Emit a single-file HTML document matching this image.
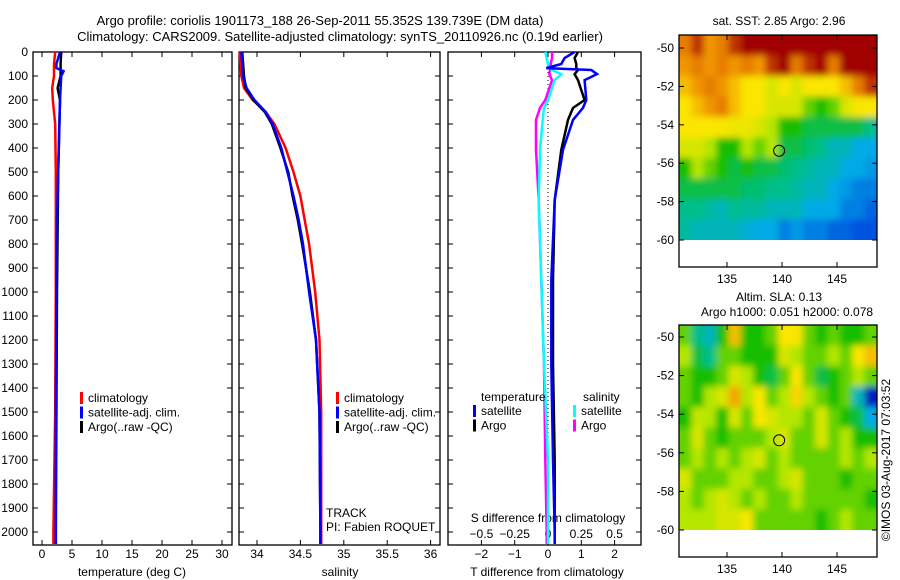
<!DOCTYPE html>
<html><head><meta charset="utf-8"><style>
body{margin:0;background:#fff;}
svg{display:block;font-family:"Liberation Sans",sans-serif;}
</style></head><body>
<svg id="c" width="900" height="580" viewBox="0 0 900 580">
<defs>
<filter id="blur" x="-5%" y="-5%" width="110%" height="110%"><feGaussianBlur stdDeviation="3.5"/></filter>
<clipPath id="clip1"><rect x="679" y="35" width="198" height="205"/></clipPath>
<clipPath id="clip2"><rect x="679" y="325" width="198" height="205"/></clipPath>
</defs>
<text x="320" y="25" font-size="13" text-anchor="middle">Argo profile: coriolis 1901173_188 26-Sep-2011 55.352S 139.739E (DM data)</text>
<text x="340" y="41" font-size="13" text-anchor="middle">Climatology: CARS2009. Satellite-adjusted climatology: synTS_20110926.nc (0.19d earlier)</text>
<g id="g"></g>
</svg>
<script>
// ---- data ----
const depthTicks=[0,100,200,300,400,500,600,700,800,900,1000,1100,1200,1300,1400,1500,1600,1700,1800,1900,2000];
const tempTicks=[0,5,10,15,20,25,30];
const salTicks=[34,34.5,35,35.5,36];
const tdiffTicks=[-2,-1,0,1,2];
const sdiffTicks=[-0.5,-0.25,0,0.25,0.5];
const lonTicks=[135,140,145];
const latTicks=[-50,-52,-54,-56,-58,-60];

const climDepth=[0,50,100,150,200,300,500,1000,1500,2000,2050];
const climTemp=[2.2,2.0,2.0,1.7,1.8,2.2,2.3,2.3,2.2,1.9,1.9];
const satDepth=[0,50,67,80,100,200,400,700,1000,1500,2000,2050];
const satTemp=[3.0,2.4,2.4,3.6,3.2,3.0,2.8,2.5,2.4,2.3,2.3,2.3];
const argoDepth=[0,50,100,150,200,500,1000,1500,2000,2050];
const argoTemp=[3.2,3.1,3.1,2.6,3.0,2.7,2.5,2.4,2.3,2.3];

const salDepth=[0,100,150,200,250,300,400,500,600,700,800,1000,1200,1500,2000,2050];
const climSal=[33.8,33.82,33.85,33.95,34.1,34.2,34.33,34.42,34.5,34.55,34.6,34.67,34.72,34.74,34.74,34.74];
const satSal=[33.82,33.84,33.88,33.97,34.1,34.18,34.28,34.35,34.42,34.48,34.53,34.6,34.68,34.72,34.73,34.73];
const argoSal=[33.83,33.85,33.87,33.96,34.09,34.17,34.27,34.36,34.41,34.47,34.52,34.61,34.68,34.72,34.73,34.73];

const dDepth=[0,25,50,67,75,92,117,200,233,283,408,617,950,1300,1700,2000,2050];
const satTdiff=[0.8,0.5,0.4,-0.05,1.3,1.47,1.1,1.15,1.05,0.75,0.45,0.2,0.1,0.1,0.15,0.2,0.2];
const argoTdiff=[0.9,0.8,0.85,0.85,0.9,0.8,0.9,1.1,0.75,0.6,0.4,0.2,0.15,0.15,0.2,0.2,0.2];
const satSdiff=[-0.02,-0.01,0.0,0.01,0.03,0.1,0.05,0.0,-0.03,-0.04,-0.06,-0.07,-0.05,-0.03,0.0,0.0,0.0];
const argoSdiff=[0.03,0.03,0.02,0.02,0.015,0.01,0.03,-0.02,-0.06,-0.09,-0.09,-0.07,-0.05,-0.03,-0.02,-0.01,-0.01];

const sstGrid=[
[0.85,0.95,0.8,0.85,0.95,1,1,1,1,1,1,1,1,1,1,1],
[0.8,0.85,0.8,0.85,0.8,0.85,0.8,0.95,1,0.85,0.95,1,0.85,1,1,1],
[0.75,0.8,0.85,0.8,0.75,0.7,0.7,0.65,0.7,0.65,0.7,0.7,0.7,0.75,0.85,0.95],
[0.7,0.75,0.8,0.85,0.75,0.7,0.7,0.65,0.65,0.65,0.55,0.5,0.55,0.65,0.7,0.7],
[0.7,0.7,0.7,0.7,0.68,0.68,0.65,0.6,0.5,0.5,0.45,0.45,0.45,0.45,0.45,0.4],
[0.65,0.65,0.6,0.5,0.5,0.6,0.55,0.6,0.45,0.45,0.42,0.4,0.35,0.35,0.3,0.3],
[0.5,0.6,0.55,0.5,0.45,0.5,0.45,0.45,0.42,0.4,0.38,0.35,0.35,0.3,0.3,0.28],
[0.45,0.45,0.45,0.45,0.45,0.42,0.42,0.4,0.4,0.38,0.35,0.35,0.3,0.28,0.25,0.25],
[0.4,0.4,0.38,0.35,0.4,0.38,0.38,0.35,0.35,0.35,0.3,0.3,0.3,0.25,0.25,0.22],
[0.38,0.35,0.35,0.35,0.35,0.32,0.3,0.3,0.25,0.28,0.25,0.25,0.22,0.22,0.2,0.2]];
const slaGrid=[
[.55,.4,.35,.5,.75,.5,.5,.55,.7,.7,.55,.5,.55,.5,.5,.55],
[.6,.45,.4,.55,.55,.5,.5,.5,.65,.6,.55,.55,.6,.55,.7,.75],
[.55,.5,.5,.55,.65,.6,.5,.45,.55,.7,.55,.45,.5,.55,.6,.55],
[.55,.5,.6,.65,.78,.6,.7,.55,.6,.72,.6,.55,.5,.55,.35,.1],
[.5,.62,.6,.5,.65,.55,.7,.65,.6,.6,.55,.65,.55,.5,.45,.3],
[.55,.65,.55,.5,.55,.55,.55,.6,.65,.55,.55,.65,.55,.6,.5,.5],
[.55,.6,.55,.6,.55,.6,.65,.55,.6,.55,.55,.55,.55,.6,.55,.6],
[.65,.55,.55,.55,.6,.6,.55,.55,.6,.65,.55,.55,.55,.5,.55,.55],
[.6,.55,.6,.65,.6,.55,.6,.55,.55,.6,.55,.55,.55,.55,.55,.5],
[.6,.6,.6,.65,.65,.7,.55,.55,.55,.55,.55,.5,.55,.6,.55,.55]];
const floatLon=139.739, floatLat=-55.352;

// ---- helpers ----
const NS="http://www.w3.org/2000/svg";
const G=document.getElementById('g');
function el(tag,attrs,parent){const e=document.createElementNS(NS,tag);for(const k in attrs)e.setAttribute(k,attrs[k]);(parent||G).appendChild(e);return e;}
function txt(x,y,s,anchor,size,parent){const t=el('text',{x:x,y:y,'font-size':size||12,'text-anchor':anchor||'middle'},parent);t.textContent=s;return t;}
const cmapStops=[[0,[0,0,130]],[0.15,[0,40,220]],[0.3,[0,170,230]],[0.4,[0,190,140]],[0.5,[20,190,0]],[0.6,[180,230,0]],[0.7,[250,230,0]],[0.8,[240,150,0]],[0.9,[220,100,0]],[1,[160,0,0]]];
function cmap(v){v=Math.max(0,Math.min(1,v));
 for(let i=1;i<cmapStops.length;i++){const a=cmapStops[i-1],b=cmapStops[i];
  if(v<=b[0]){const t=(v-a[0])/(b[0]-a[0]);const c=a[1].map((x,k)=>Math.round(x+(b[1][k]-x)*t));return `rgb(${c[0]},${c[1]},${c[2]})`;}}
 return 'rgb(160,0,0)';}
const yD=d=>52+d*0.24;
const TOP=52,BOT=545;

function panel(x0,x1,name){
 const r=el('rect',{x:x0,y:TOP,width:x1-x0,height:BOT-TOP,fill:'none',stroke:'#000','stroke-width':1.3});
 
 
 depthTicks.forEach(d=>{el('line',{x1:x0,x2:x0+5,y1:yD(d),y2:yD(d),stroke:'#000'});el('line',{x1:x1,x2:x1-5,y1:yD(d),y2:yD(d),stroke:'#000'});});
}
function line(xs,ds,xf,col,name,w){
 const p=xs.map((v,i)=>xf(v).toFixed(1)+','+yD(ds[i]).toFixed(1)).join(' ');
 const l=el('polyline',{points:p,fill:'none',stroke:col,'stroke-width':w||2.5});
 
 
}
function legend(x,y,items){
 items.forEach((it,i)=>{el('rect',{x:x,y:y+i*14.5-10,width:3,height:12,fill:it[0]});
  const t=txt(x+8,y+i*14.5,it[1],'start',12);
  
  });
}

// panel 1 temperature
const xT=v=>42+v*6;
panel(33,232,'temperature-panel');
depthTicks.forEach(d=>{txt(28,yD(d)+4,String(d),'end',12);});
tempTicks.forEach(v=>{el('line',{x1:xT(v),x2:xT(v),y1:BOT,y2:BOT-5,stroke:'#000'});el('line',{x1:xT(v),x2:xT(v),y1:TOP,y2:TOP+5,stroke:'#000'});txt(xT(v),558,String(v));});
txt(132,576,'temperature (deg C)');
line(climTemp,climDepth,xT,'#f00','temp-climatology-line');
line(argoTemp,argoDepth,xT,'#000','temp-argo-line');
line(satTemp,satDepth,xT,'#00f','temp-satellite-line');
legend(80,402,[['#f00','climatology'],['#00f','satellite-adj. clim.'],['#000','Argo(..raw -QC)']]);

// panel 2 salinity
const xS=v=>257+(v-34)*86.8;
panel(239,440,'salinity-panel');
salTicks.forEach(v=>{el('line',{x1:xS(v),x2:xS(v),y1:BOT,y2:BOT-5,stroke:'#000'});el('line',{x1:xS(v),x2:xS(v),y1:TOP,y2:TOP+5,stroke:'#000'});txt(xS(v),558,String(v));});
txt(340,576,'salinity');
line(climSal,salDepth,xS,'#f00','sal-climatology-line');
line(argoSal,salDepth,xS,'#000','sal-argo-line');
line(satSal,salDepth,xS,'#00f','sal-satellite-line');
legend(336,402,[['#f00','climatology'],['#00f','satellite-adj. clim.'],['#000','Argo(..raw -QC)']]);
txt(326,517,'TRACK','start',12);txt(326,531,'PI: Fabien ROQUET','start',12);

// panel 3 differences
const xTd=v=>548+v*33.3, xSd=v=>548+v*133.2;
panel(448,641,'difference-panel');
el('line',{x1:548,x2:548,y1:TOP,y2:BOT-10,stroke:'#000','stroke-dasharray':'1,3'});
tdiffTicks.forEach(v=>{el('line',{x1:xTd(v),x2:xTd(v),y1:BOT,y2:BOT-5,stroke:'#000'});el('line',{x1:xTd(v),x2:xTd(v),y1:TOP,y2:TOP+5,stroke:'#000'});txt(xTd(v),558,String(v).replace('-','−'));});
sdiffTicks.forEach(v=>{txt(xSd(v),538,String(v).replace('-','−'));});
txt(548,522,'S difference from climatology');
txt(547,576,'T difference from climatology');
line(argoSdiff,dDepth,xSd,'#f0f','sdiff-argo-line');
line(satSdiff,dDepth,xSd,'#0ff','sdiff-satellite-line');
line(argoTdiff,dDepth,xTd,'#000','tdiff-argo-line');
line(satTdiff,dDepth,xTd,'#00f','tdiff-satellite-line');
txt(481,401,'temperature','start',12);txt(583,401,'salinity','start',12);
legend(473,415,[['#00f','satellite'],['#000','Argo']]);
legend(573,415,[['#0ff','satellite'],['#f0f','Argo']]);

// maps
function map(y0,y1,latTop,pxLat,grid,name,titles,clipId){
 const xL=v=>727+(v-135)*11, yL=v=>latTop+(-50-v)*pxLat;
 const rows=grid.length, cols=grid[0].length;
 const lon0=(679-727)/11+135, lon1=(877-727)/11+135, lat0=-50+(latTop-y0)/pxLat;
 const dLon=(lon1-lon0)/cols, dLat=(lat0+60)/rows;
 const outer=el('g',{'clip-path':'url(#'+clipId+')'});
 const cells=el('g',{filter:'url(#blur)'},outer);
 grid.forEach((row,i)=>row.forEach((v,j)=>{
  const x=xL(lon0+j*dLon), y=yL(lat0-i*dLat);
  // extend edge cells outward so blur doesn't fade at borders
  const ex0=j===0?8:0, ex1=j===cols-1?8:0, ey0=i===0?8:0, ey1=i===rows-1?8:0;
  const c=el('rect',{x:(x-ex0).toFixed(1),y:(y-ey0).toFixed(1),width:(dLon*11+0.6+ex0+ex1).toFixed(1),height:(dLat*pxLat+0.6+ey0+ey1).toFixed(1),fill:cmap(v)},cells);
  
  
 }));
 const r=el('rect',{x:679,y:y0,width:198,height:y1-y0,fill:'none',stroke:'#000','stroke-width':1.3});
 
 
 latTicks.forEach(v=>{el('line',{x1:679,x2:684,y1:yL(v),y2:yL(v),stroke:'#000'});el('line',{x1:877,x2:872,y1:yL(v),y2:yL(v),stroke:'#000'});txt(674,yL(v)+4,String(v),'end',12);});
 lonTicks.forEach(v=>{el('line',{x1:xL(v),x2:xL(v),y1:y0,y2:y0+5,stroke:'#000'});el('line',{x1:xL(v),x2:xL(v),y1:y1,y2:y1-5,stroke:'#000'});txt(xL(v),y1+16,String(v));});
 const m=el('circle',{cx:xL(floatLon),cy:yL(floatLat),r:5.5,fill:'none',stroke:'#000'});
 
 
 titles.forEach(t=>txt(t[0],t[1],t[2],'middle',12));
}
map(35,267,48,19.2,sstGrid,'sst-map',[[779,25,'sat. SST: 2.85  Argo: 2.96']],'clip1');
map(325,557,337,19.3,slaGrid,'sla-map',[[779,301,'Altim. SLA: 0.13'],[787,316,'Argo h1000: 0.051  h2000: 0.078']],'clip2');
const st=txt(0,0,'©IMOS 03-Aug-2017 07:03:52','middle',12);
st.setAttribute('transform','translate(890,460) rotate(-90)');
</script>
</body></html>
